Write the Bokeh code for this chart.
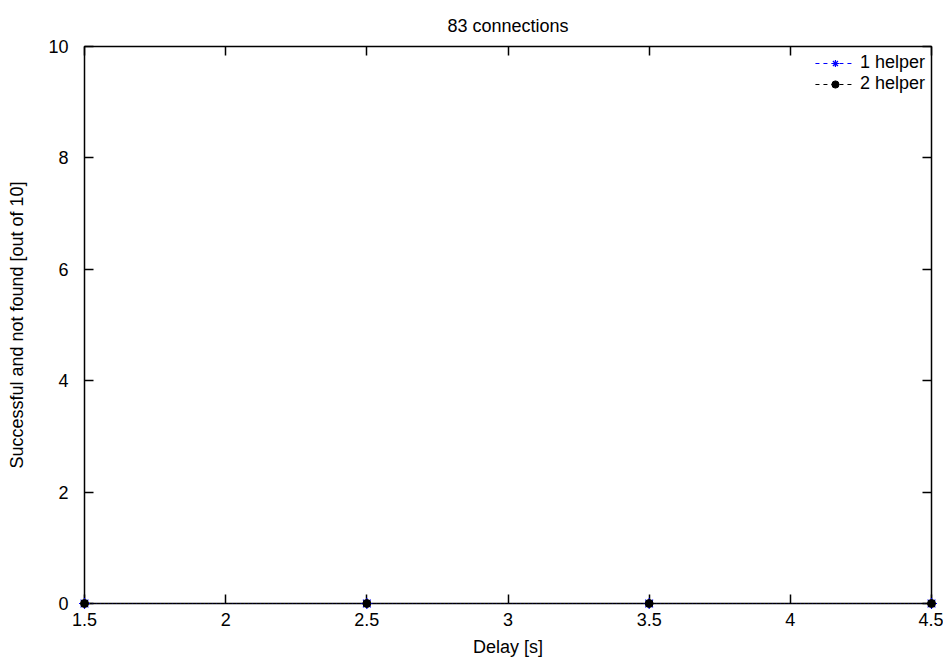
from bokeh.plotting import figure
from bokeh.models import Range1d, LinearAxis, FixedTicker, Legend, LegendItem
from bokeh.embed import file_html
from bokeh.resources import INLINE

delay = [1.5, 2.5, 3.5, 4.5]
helper1 = [0, 0, 0, 0]
helper2 = [0, 0, 0, 0]
x_ticks = [1.5, 2, 2.5, 3, 3.5, 4, 4.5]
y_ticks = [0, 2, 4, 6, 8, 10]

FONT = "Liberation Sans"
FS = "18px"

p = figure(width=943, height=659, output_backend="svg", toolbar_location=None,
           x_range=Range1d(1.5, 4.5), y_range=Range1d(0, 10),
           min_border_left=84, min_border_right=12, min_border_top=46, min_border_bottom=54)
p.title.text = "83 connections"
p.title.align = "center"
p.title.text_font = FONT
p.title.text_font_size = FS
p.title.text_font_style = "normal"
p.title.text_color = "black"
p.title.standoff = 22
p.grid.visible = False
p.outline_line_color = "black"
p.outline_line_width = 1.5
p.background_fill_color = "white"
p.border_fill_color = "white"

def style_axis(ax, ticks, labels=True):
    ax.ticker = FixedTicker(ticks=ticks)
    ax.major_tick_in = 9
    ax.major_tick_out = 0
    ax.minor_tick_line_color = None
    ax.axis_line_color = "black"
    ax.major_tick_line_color = "black"
    ax.major_tick_line_width = 1.5
    ax.major_label_text_font = FONT
    ax.major_label_text_font_size = FS
    ax.major_label_text_color = "black"
    ax.axis_label_text_font = FONT
    ax.axis_label_text_font_size = FS
    ax.axis_label_text_font_style = "normal"
    ax.axis_label_text_color = "black"
    if not labels:
        ax.major_label_overrides = {t: "" for t in ticks}
        ax.major_label_text_font_size = "1px"
        ax.major_label_standoff = 0

p.xaxis.axis_label = "Delay [s]"
p.yaxis.axis_label = "Successful and not found [out of 10]"
style_axis(p.xaxis[0], x_ticks)
style_axis(p.yaxis[0], y_ticks)
p.xaxis.major_label_standoff = 9
p.yaxis.major_label_standoff = 16
p.xaxis.axis_label_standoff = 8
p.yaxis.axis_label_standoff = 18

top = LinearAxis()
style_axis(top, x_ticks, labels=False)
p.add_layout(top, "above")
right = LinearAxis()
style_axis(right, y_ticks, labels=False)
p.add_layout(right, "right")

l1 = p.line(delay, helper1, line_color="blue", line_dash="4 4", line_width=1, level="overlay")
m1 = p.scatter(delay, helper1, marker="asterisk", size=11, line_color="blue", line_width=1.2, level="overlay")
l2 = p.line(delay, helper2, line_color="black", line_dash="4 4", line_width=1, level="overlay")
m2 = p.scatter(delay, helper2, marker="circle", size=8, fill_color="black", line_color="black", level="overlay")

legend = Legend(items=[LegendItem(label="1 helper", renderers=[l1, m1]),
                       LegendItem(label="2 helper", renderers=[l2, m2])],
                location="top_right", border_line_color=None, background_fill_alpha=0,
                label_text_font=FONT, label_text_font_size=FS, label_text_color="black",
                glyph_width=40, glyph_height=18, spacing=0, padding=4, margin=6, label_height=18)
p.add_layout(legend)

open("out.html", "w").write(file_html(p, INLINE))
